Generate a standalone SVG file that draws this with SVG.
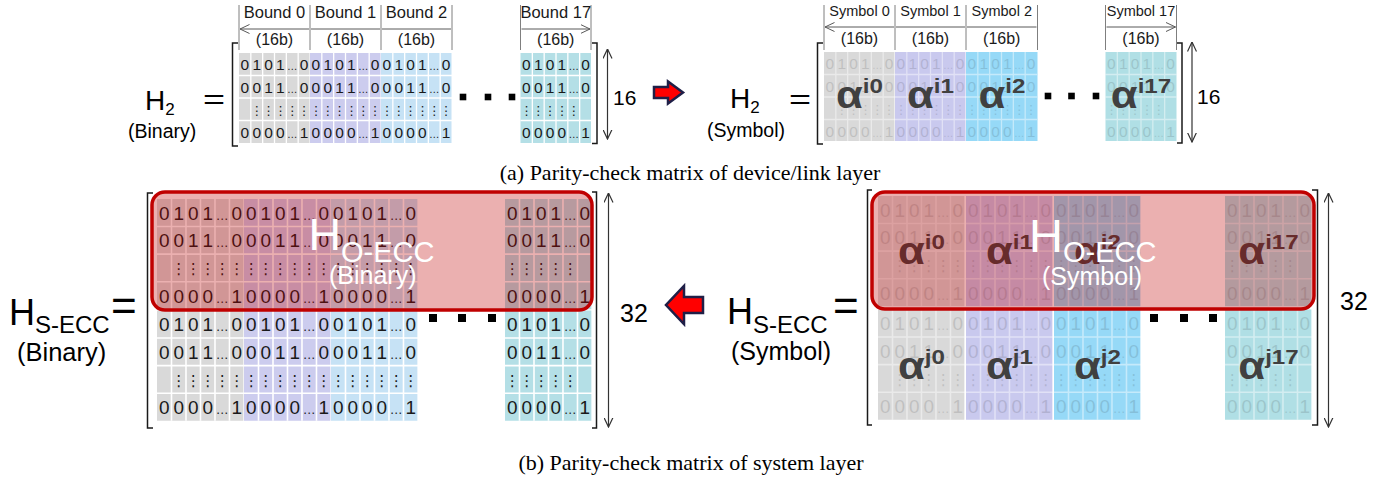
<svg xmlns="http://www.w3.org/2000/svg" xmlns:xlink="http://www.w3.org/1999/xlink" width="1395" height="483" viewBox="0 0 1395 483">
<defs>
<style>
text { font-family: "Liberation Sans", Arial, sans-serif; fill: #000; }
.d { font-size: 15.5px; fill: #1a1a1a; text-anchor: middle; }
.e { font-size: 10.5px; }
.v { font-family: "DejaVu Sans", sans-serif; font-size: 12.5px; fill: #1a1a1a; text-anchor: middle; }
.grid { stroke: #fff; stroke-width: 1.3; fill: none; }
.faint { opacity: 0.13; }
.fgrid { opacity: 0.45; }
.hl { stroke: #7f7f7f; stroke-width: 1; }
.ha { stroke: #595959; stroke-width: 1; fill: none; marker-start: url(#ah1); marker-end: url(#ah1); }
.va { stroke: #333; stroke-width: 1.2; fill: none; marker-start: url(#ah2); marker-end: url(#ah2); }
.br { stroke: #1a1a1a; stroke-width: 1.5; fill: none; }
.hd { font-size: 16.5px; fill: #1a1a1a; text-anchor: middle; }
.sh { font-size: 14.5px; fill: #1a1a1a; text-anchor: middle; }
.sb { font-size: 16px; fill: #1a1a1a; text-anchor: middle; }
.al { font-weight: bold; font-size: 38px; fill: #404040; text-anchor: middle; }
.sp { font-size: 21px; }
.sq { fill: #000; }
.arr { fill: #ff0000; stroke: #1f1f47; stroke-width: 2.5; stroke-linejoin: miter; }
.ov { fill: #c00000; fill-opacity: 0.31; stroke: #c00000; stroke-width: 3.5; }
.wt { fill: #fff; }
.cap { font-family: "Liberation Serif", "Times New Roman", serif; font-size: 22px; fill: #000; text-anchor: middle; }
</style>
<marker id="ah1" viewBox="0 0 10 10" refX="9.5" refY="5" markerWidth="10" markerHeight="10" markerUnits="userSpaceOnUse" orient="auto-start-reverse"><path d="M0,0.5 L9.5,5 L0,9.5" fill="none" stroke="#595959" stroke-width="1"/></marker>
<marker id="ah2" viewBox="0 0 10 10" refX="9.5" refY="5" markerWidth="10" markerHeight="10" markerUnits="userSpaceOnUse" orient="auto-start-reverse"><path d="M0,0.5 L9.5,5 L0,9.5" fill="none" stroke="#333" stroke-width="1.2"/></marker>
<path id="g" class="grid" d="M11.83,0V90M23.67,0V90M35.5,0V90M47.33,0V90M59.17,0V90M0,22.5H71M0,45H71M0,67.5H71"/>
<g id="n">
<text class="d" y="17"><tspan x="5.9 17.75 29.6 41.4">0101</tspan><tspan x="53.25" class="e">…</tspan><tspan x="65.1">0</tspan></text>
<text class="d" y="39.5"><tspan x="5.9 17.75 29.6 41.4">0011</tspan><tspan x="53.25" class="e">…</tspan><tspan x="65.1">0</tspan></text>
<text class="d" y="84.5"><tspan x="5.9 17.75 29.6 41.4">0000</tspan><tspan x="53.25" class="e">…</tspan><tspan x="65.1">1</tspan></text>
</g>
<text id="v5a" class="v" x="17.75 29.6 41.4 53.25 65.1" y="61.5">⋮⋮⋮⋮⋮</text>
<text id="v6" class="v" x="5.9 17.75 29.6 41.4 53.25 65.1" y="61.5">⋮⋮⋮⋮⋮⋮</text>
<text id="v5b" class="v" x="5.9 17.75 29.6 41.4 53.25" y="61.5">⋮⋮⋮⋮⋮</text>
</defs>
<rect width="1395" height="483" fill="#fff"/>

<!-- (a) H2 binary -->
<g id="h2-binary">
<text x="145" y="110" font-size="28">H<tspan font-size="17" dy="5">2</tspan></text>
<text transform="translate(203,109) scale(1.35,1)" font-size="28">=</text>
<text x="128" y="138" font-size="19.5">(Binary)</text>
<path class="hl" d="M239,5V50M310,5V50M381,5V50M452,5V50M520.5,5V50M591,5V50"/>
<path class="ha" d="M240,29H309M311,29H380M382,29H451M521.5,29H590"/>
<text class="hd" x="274.5" y="18">Bound 0</text>
<text class="hd" x="345.5" y="18">Bound 1</text>
<text class="hd" x="416.5" y="18">Bound 2</text>
<text class="hd" x="555.75" y="18">Bound 17</text>
<text class="sb" x="274.5" y="45">(16b)</text>
<text class="sb" x="345.5" y="45">(16b)</text>
<text class="sb" x="416.5" y="45">(16b)</text>
<text class="sb" x="555.75" y="45">(16b)</text>
<g transform="translate(239,53)"><rect width="70.5" height="90" fill="#d9d9d9"/><use href="#g"/><use href="#n"/><use href="#v5a"/></g>
<g transform="translate(310,53)"><rect width="70.5" height="90" fill="#ccccee"/><use href="#g"/><use href="#n"/><use href="#v6"/></g>
<g transform="translate(381,53)"><rect width="70.5" height="90" fill="#c6e2f5"/><use href="#g"/><use href="#n"/><use href="#v6"/></g>
<g transform="translate(520.5,53)"><rect width="70.5" height="90" fill="#b4dfe6"/><use href="#g"/><use href="#n"/><use href="#v5b"/></g>
<rect class="sq" x="459.7" y="93.7" width="6.6" height="6.6"/>
<rect class="sq" x="484.7" y="93.7" width="6.6" height="6.6"/>
<rect class="sq" x="508.7" y="93.7" width="6.6" height="6.6"/>
<path class="br" d="M238,43H232.5V146H238M592,43H597V143.5H592"/>
<path class="va" d="M607.5,49V139"/>
<text x="613" y="105" font-size="21">16</text>
</g>

<!-- (a) H2 symbol -->
<g id="h2-symbol">
<text x="730" y="108" font-size="28">H<tspan font-size="17" dy="5">2</tspan></text>
<text transform="translate(789,109) scale(1.35,1)" font-size="28">=</text>
<text x="707" y="137" font-size="19.5">(Symbol)</text>
<path class="hl" d="M824,5V50M895,5V50M966,5V50M1037.5,5V50M1105.5,5V50M1176.5,5V50"/>
<path class="ha" d="M825,27H894M896,27H965M967,27H1036.5M1106.5,27H1175.5"/>
<text class="sh" x="859.5" y="16">Symbol 0</text>
<text class="sh" x="930.5" y="16">Symbol 1</text>
<text class="sh" x="1001.75" y="16">Symbol 2</text>
<text class="sh" x="1141" y="16">Symbol 17</text>
<text class="sb" x="859.5" y="44">(16b)</text>
<text class="sb" x="930.5" y="44">(16b)</text>
<text class="sb" x="1001.75" y="44">(16b)</text>
<text class="sb" x="1141" y="44">(16b)</text>
<g transform="translate(824,52)"><rect width="70.5" height="89" fill="#d9d9d9"/><use href="#g" class="fgrid"/><g class="faint"><use href="#n"/><use href="#v5a"/></g></g>
<g transform="translate(895,52)"><rect width="70.5" height="89" fill="#c9c9ee"/><use href="#g" class="fgrid"/><g class="faint"><use href="#n"/><use href="#v6"/></g></g>
<g transform="translate(966,52)"><rect width="71.5" height="89" fill="#96d9f7"/><use href="#g" class="fgrid"/><g class="faint"><use href="#n"/><use href="#v6"/></g></g>
<g transform="translate(1105.5,52)"><rect width="71" height="89" fill="#b0dfe5"/><use href="#g" class="fgrid"/><g class="faint"><use href="#n"/><use href="#v5b"/></g></g>
<text class="al" transform="translate(859.5,108) scale(1.15,1)">α<tspan class="sp" dy="-15">i0</tspan></text>
<text class="al" transform="translate(930.5,108) scale(1.15,1)">α<tspan class="sp" dy="-15">i1</tspan></text>
<text class="al" transform="translate(1002,108) scale(1.15,1)">α<tspan class="sp" dy="-15">i2</tspan></text>
<text class="al" transform="translate(1141,108) scale(1.15,1)">α<tspan class="sp" dy="-15">i17</tspan></text>
<rect class="sq" x="1044.7" y="92.7" width="6.6" height="6.6"/>
<rect class="sq" x="1068.2" y="92.7" width="6.6" height="6.6"/>
<rect class="sq" x="1092.7" y="92.7" width="6.6" height="6.6"/>
<path class="br" d="M823,43H817.5V144H823M1177,43H1182V143H1177"/>
<path class="va" d="M1192,42V142"/>
<text x="1197" y="104" font-size="21">16</text>
</g>

<text id="caption-a" class="cap" x="690" y="180">(a) Parity-check matrix of device/link layer</text>

<!-- (b) HS-ECC binary -->
<g id="hsecc-binary">
<text x="9" y="325" font-size="36">H<tspan font-size="24" dy="8">S-ECC</tspan></text>
<text x="111" y="321" font-size="44">=</text>
<text x="17" y="361" font-size="25.5">(Binary)</text>
<g transform="translate(157,199) scale(1.225)"><rect width="70.5" height="90" fill="#d9d9d9"/><use href="#g"/><use href="#n"/><use href="#v5a"/></g>
<g transform="translate(244,199) scale(1.225)"><rect width="70.5" height="90" fill="#ccccee"/><use href="#g"/><use href="#n"/><use href="#v6"/></g>
<g transform="translate(331,199) scale(1.225)"><rect width="70.5" height="90" fill="#c6e2f5"/><use href="#g"/><use href="#n"/><use href="#v6"/></g>
<g transform="translate(505,199) scale(1.225)"><rect width="70.5" height="90" fill="#b4dfe6"/><use href="#g"/><use href="#n"/><use href="#v5b"/></g>
<g transform="translate(157,310.5) scale(1.225)"><rect width="70.5" height="90" fill="#d9d9d9"/><use href="#g"/><use href="#n"/><use href="#v5a"/></g>
<g transform="translate(244,310.5) scale(1.225)"><rect width="70.5" height="90" fill="#ccccee"/><use href="#g"/><use href="#n"/><use href="#v6"/></g>
<g transform="translate(331,310.5) scale(1.225)"><rect width="70.5" height="90" fill="#c6e2f5"/><use href="#g"/><use href="#n"/><use href="#v6"/></g>
<g transform="translate(505,310.5) scale(1.225)"><rect width="70.5" height="90" fill="#b4dfe6"/><use href="#g"/><use href="#n"/><use href="#v5b"/></g>
<rect class="ov" x="152" y="192" width="440" height="118" rx="13"/>
<text class="wt" x="308.5" y="250" font-size="45">H<tspan font-size="29" dy="12">O-ECC</tspan></text>
<text class="wt" x="329" y="284" font-size="25">(Binary)</text>
<rect class="sq" x="429" y="314" width="8" height="8"/>
<rect class="sq" x="458" y="314" width="8" height="8"/>
<rect class="sq" x="488" y="314" width="8" height="8"/>
<path class="br" d="M153,193H147.5V428H153M592,192H596.5V428H592"/>
<path class="va" d="M608.5,193V427"/>
<text x="620" y="322" font-size="25">32</text>
</g>

<!-- (b) HS-ECC symbol -->
<g id="hsecc-symbol">
<text x="727" y="324" font-size="36">H<tspan font-size="24" dy="9">S-ECC</tspan></text>
<text x="833" y="321" font-size="44">=</text>
<text x="731" y="360" font-size="25">(Symbol)</text>
<g transform="translate(878,196) scale(1.225)"><rect width="70.5" height="90" fill="#d9d9d9"/><use href="#g" class="fgrid"/><g class="faint"><use href="#n"/><use href="#v5a"/></g></g>
<g transform="translate(966,196) scale(1.225)"><rect width="70.5" height="90" fill="#c9c9ee"/><use href="#g" class="fgrid"/><g class="faint"><use href="#n"/><use href="#v6"/></g></g>
<g transform="translate(1054,196) scale(1.225)"><rect width="70.5" height="90" fill="#96d9f7"/><use href="#g" class="fgrid"/><g class="faint"><use href="#n"/><use href="#v6"/></g></g>
<g transform="translate(1225,196) scale(1.225)"><rect width="70.5" height="90" fill="#b0dfe5"/><use href="#g" class="fgrid"/><g class="faint"><use href="#n"/><use href="#v5b"/></g></g>
<g transform="translate(878,309.5) scale(1.225)"><rect width="70.5" height="90" fill="#d9d9d9"/><use href="#g" class="fgrid"/><g class="faint"><use href="#n"/><use href="#v5a"/></g></g>
<g transform="translate(966,309.5) scale(1.225)"><rect width="70.5" height="90" fill="#c9c9ee"/><use href="#g" class="fgrid"/><g class="faint"><use href="#n"/><use href="#v6"/></g></g>
<g transform="translate(1054,309.5) scale(1.225)"><rect width="70.5" height="90" fill="#96d9f7"/><use href="#g" class="fgrid"/><g class="faint"><use href="#n"/><use href="#v6"/></g></g>
<g transform="translate(1225,309.5) scale(1.225)"><rect width="70.5" height="90" fill="#b0dfe5"/><use href="#g" class="fgrid"/><g class="faint"><use href="#n"/><use href="#v5b"/></g></g>
<text class="al" transform="translate(921.5,264) scale(1.15,1)">α<tspan class="sp" dy="-15">i0</tspan></text>
<text class="al" transform="translate(1009.5,264) scale(1.15,1)">α<tspan class="sp" dy="-15">i1</tspan></text>
<text class="al" transform="translate(1097.5,264) scale(1.15,1)">α<tspan class="sp" dy="-15">i2</tspan></text>
<text class="al" transform="translate(1268.5,264) scale(1.15,1)">α<tspan class="sp" dy="-15">i17</tspan></text>
<text class="al" transform="translate(921.5,379) scale(1.15,1)">α<tspan class="sp" dy="-15">j0</tspan></text>
<text class="al" transform="translate(1009.5,379) scale(1.15,1)">α<tspan class="sp" dy="-15">j1</tspan></text>
<text class="al" transform="translate(1097.5,379) scale(1.15,1)">α<tspan class="sp" dy="-15">j2</tspan></text>
<text class="al" transform="translate(1268.5,379) scale(1.15,1)">α<tspan class="sp" dy="-15">j17</tspan></text>
<rect class="ov" x="872" y="192" width="442" height="117" rx="13"/>
<text class="wt" x="1029" y="252" font-size="47">H<tspan font-size="29" dy="10">O-ECC</tspan></text>
<text class="wt" x="1042" y="285" font-size="25">(Symbol)</text>
<rect class="sq" x="1150" y="314" width="8" height="8"/>
<rect class="sq" x="1180" y="314" width="8" height="8"/>
<rect class="sq" x="1209" y="314" width="8" height="8"/>
<path class="br" d="M872,190H867.5V425H872M1312,190H1317.5V425H1312"/>
<path class="va" d="M1328.5,193V427"/>
<text x="1340" y="310" font-size="25">32</text>
</g>

<text id="caption-b" class="cap" x="691" y="470">(b) Parity-check matrix of system layer</text>

<g id="connectors">
<path class="arr" d="M654,87H668V81.5L683,92.5L668,103.5V98H654Z"/>
<path class="arr" d="M703,297H684V286L666,305L684,324V313H703Z"/>
</g>
</svg>
